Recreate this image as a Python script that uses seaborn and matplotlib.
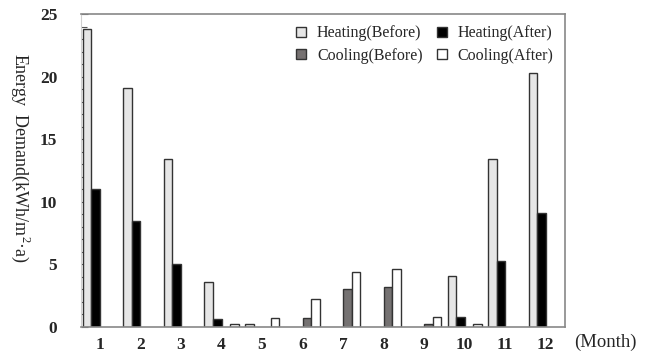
import numpy as np
import pandas as pd
import seaborn as sns
import matplotlib.pyplot as plt
from matplotlib.patches import Patch
from matplotlib.ticker import MultipleLocator

sns.set_style("white")
plt.rcParams["font.family"] = ["Liberation Serif", "DejaVu Serif"]
plt.rcParams["mathtext.fontset"] = "custom"
plt.rcParams["mathtext.rm"] = "Liberation Serif"

# ------------ Data ------------
months = [1, 2, 3, 4, 5, 6, 7, 8, 9, 10, 11, 12]
heating_before = [23.8, 19.1, 13.4, 3.6, 0.2, np.nan, np.nan, np.nan, np.nan, 4.1, 13.4, 20.3]
heating_after = [11.0, 8.5, 5.0, 0.6, np.nan, np.nan, np.nan, np.nan, np.nan, 0.75, 5.3, 9.1]
cooling_before = [np.nan, np.nan, np.nan, np.nan, np.nan, 0.7, 3.0, 3.2, 0.2, np.nan, np.nan, np.nan]
cooling_after = [np.nan, np.nan, np.nan, 0.2, 0.7, 2.2, 4.35, 4.6, 0.8, 0.2, np.nan, np.nan]

series_names = ["Heating(Before)", "Heating(After)", "Cooling(Before)", "Cooling(After)"]
series_colors = ["#e6e6e6", "#000000", "#767171", "#ffffff"]

df = pd.DataFrame({
    "month": months * 4,
    "series": np.repeat(series_names, len(months)),
    "value": heating_before + heating_after + cooling_before + cooling_after,
}).dropna()
df["month"] = df["month"].astype(str)

# ------------ Plot ------------
fig, ax = plt.subplots(figsize=(6.47, 3.6), dpi=100)
fig.subplots_adjust(left=0.125, right=0.873, top=0.961, bottom=0.092)

sns.barplot(data=df, x="month", y="value", hue="series",
            order=[str(m) for m in months], hue_order=series_names,
            palette=dict(zip(series_names, series_colors)),
            edgecolor="#333333", linewidth=1.0, width=0.84,
            errorbar=None, ax=ax, legend=False)

ax.set_xlim(-0.47, 11.47)
ax.set_ylim(0, 25)
ax.yaxis.set_major_locator(MultipleLocator(5))
ax.yaxis.set_minor_locator(MultipleLocator(1))
ax.tick_params(axis="y", which="both", direction="in", left=True, length=4,
               width=0.8, color="#555555", labelsize=12.5)
ax.tick_params(axis="y", which="major", length=5, pad=17)
ax.tick_params(axis="x", bottom=False, labelsize=12.5, pad=4)
for lab in ax.get_xticklabels() + ax.get_yticklabels():
    lab.set_fontweight("bold")

for side in ["top", "right", "bottom"]:
    ax.spines[side].set_color("#888888")
    ax.spines[side].set_linewidth(1.2)
ax.spines["left"].set_color("#d0d0d0")

ax.set_xlabel("")
ax.set_ylabel("Energy  Demand(kWh/m$^{2}$·a)", rotation=-90, fontsize=13)
ax.yaxis.set_label_coords(-0.148, 0.54)

ax.text(1.02, -0.051, "(Month)", transform=ax.transAxes, fontsize=13.5,
        ha="left", va="center")

handles = [Patch(facecolor=c, edgecolor="#333333", label=n)
           for n, c in zip(series_names, series_colors)]
order = [0, 2, 1, 3]
ax.legend(handles=[handles[i] for i in order], ncol=2, frameon=False,
          loc="upper right", bbox_to_anchor=(1.0, 1.0), fontsize=11.5,
          handlelength=0.6, handleheight=0.6, handletextpad=0.7,
          columnspacing=0.9, labelspacing=0.4, borderaxespad=0.3)

fig.savefig("out.png", dpi=100)
